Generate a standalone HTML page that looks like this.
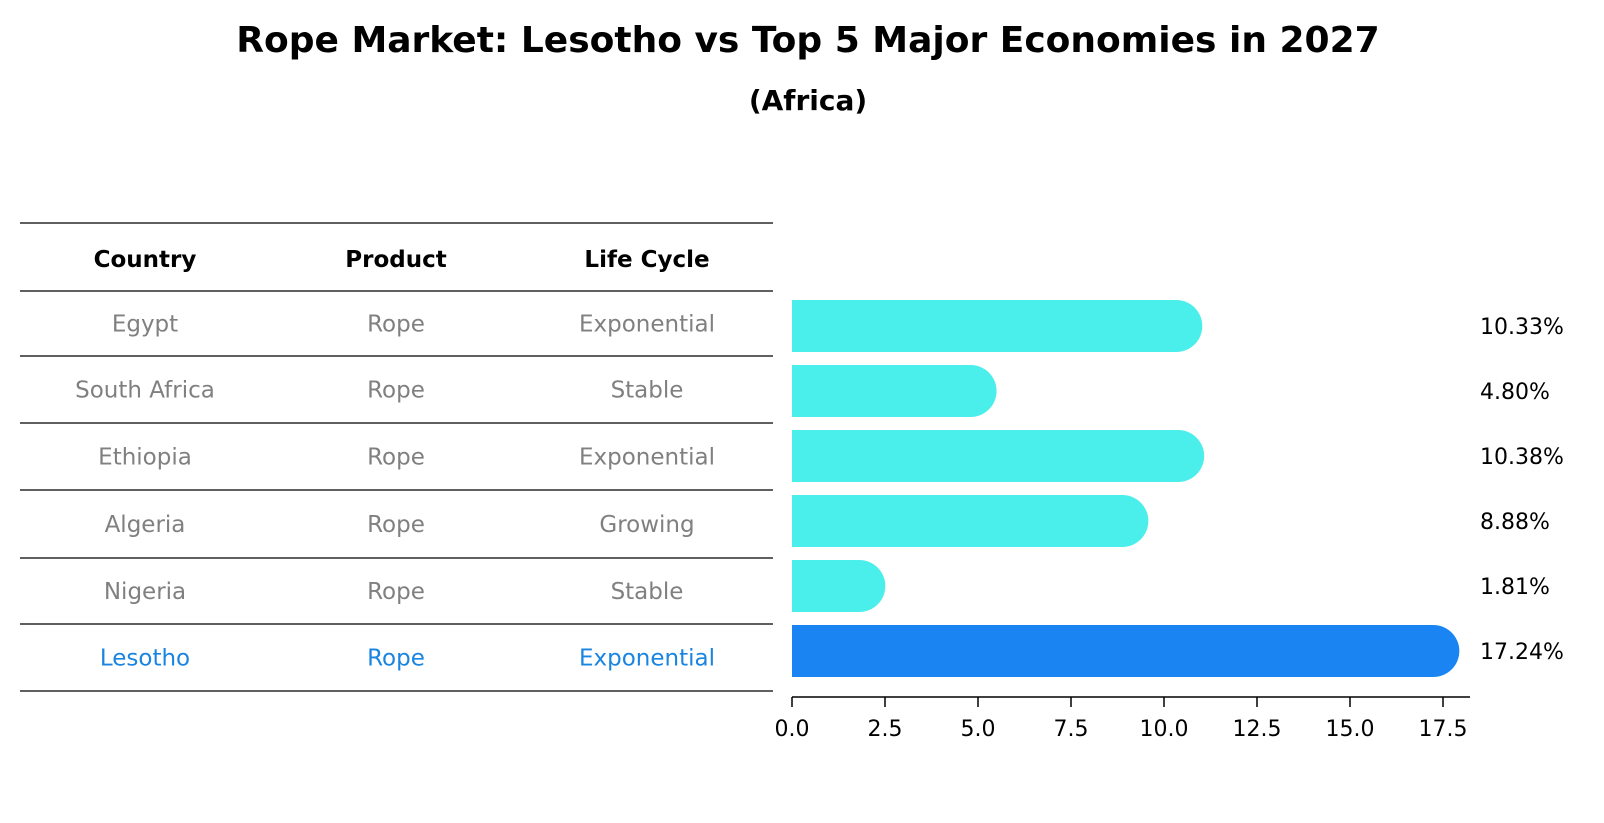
<!DOCTYPE html>
<html><head><meta charset="utf-8"><style>
html,body{margin:0;padding:0;background:#fff;}
svg{display:block;font-family:"DejaVu Sans","Liberation Sans",sans-serif;}
</style></head><body>
<svg id="chart" width="1604" height="823" viewBox="0 0 1604 823" xmlns="http://www.w3.org/2000/svg">
<text x="808" y="52" text-anchor="middle" font-size="36" font-weight="bold">Rope Market: Lesotho vs Top 5 Major Economies in 2027</text>
<text x="808" y="110" text-anchor="middle" font-size="28" font-weight="bold">(Africa)</text>
<g id="table"></g>
<g id="bars"></g>
<g id="axis"></g>
</svg>
<script>
const countries = ["Egypt","South Africa","Ethiopia","Algeria","Nigeria","Lesotho"];
const products = ["Rope","Rope","Rope","Rope","Rope","Rope"];
const lifeCycles = ["Exponential","Stable","Exponential","Growing","Stable","Exponential"];
const values = [10.33,4.80,10.38,8.88,1.81,17.24];
const valueLabels = ["10.33%","4.80%","10.38%","8.88%","1.81%","17.24%"];
const tickValues = [0,2.5,5,7.5,10,12.5,15,17.5];
const tickLabels = ["0.0","2.5","5.0","7.5","10.0","12.5","15.0","17.5"];
const highlight = "Lesotho";

const NS="http://www.w3.org/2000/svg";
function mk(tag,attrs,parent){const e=document.createElementNS(NS,tag);for(const k in attrs)e.setAttribute(k,attrs[k]);parent.appendChild(e);return e;}
const X0=792, SCALE=37.2;
const x = v => X0 + v*SCALE;
const rowY = i => 326 + i*65;
const BH=52;

// table
const table=document.getElementById('table');
const lines=[223,291,356,423,490,558,624,691];
lines.forEach((ly,i)=>{
  const l=mk('line',{x1:20,x2:773,y1:ly,y2:ly,stroke:'#000','stroke-width':1.2},table);
  
  
});
const colX=[145,396,647];
["Country","Product","Life Cycle"].forEach((h,j)=>{
  const t=mk('text',{x:colX[j],y:267,'text-anchor':'middle','font-size':23,'font-weight':'bold'},table);
  t.textContent=h;
  
  
});
countries.forEach((c,i)=>{
  const cy=(lines[i+1]+lines[i+2])/2+8;
  const col=c===highlight?'#1a85e0':'#808080';
  [c,products[i],lifeCycles[i]].forEach((s,j)=>{
    const t=mk('text',{x:colX[j],y:cy,'text-anchor':'middle','font-size':23,fill:col},table);
    t.textContent=s;
    
    
  });
});

// bars
const bars=document.getElementById('bars');
values.forEach((v,i)=>{
  const cy=rowY(i), r=BH/2;
  const col=countries[i]===highlight?'#1a85f2':'#4aeeea';
  const g=mk('g',{},bars);
  
  
  mk('rect',{x:X0,y:cy-r,width:Math.max(0,x(v)+r-X0),height:BH,rx:r,ry:r,fill:col},g);
  mk('rect',{x:X0,y:cy-r,width:Math.min(r,x(v)-X0+r),height:BH,fill:col},g);
  const t=mk('text',{x:1480,y:cy+8,'font-size':22},bars);
  t.textContent=valueLabels[i];
  
  
});

// axis
const axis=document.getElementById('axis');
const al=mk('line',{x1:X0,x2:1470,y1:697,y2:697,stroke:'#000','stroke-width':1.5},axis);


tickValues.forEach((tv,i)=>{
  const tl=mk('line',{x1:x(tv),x2:x(tv),y1:697,y2:707,stroke:'#000','stroke-width':1.5},axis);
  
  
  const t=mk('text',{x:x(tv),y:736,'text-anchor':'middle','font-size':22},axis);
  t.textContent=tickLabels[i];
  
  
});
</script>
</body></html>
